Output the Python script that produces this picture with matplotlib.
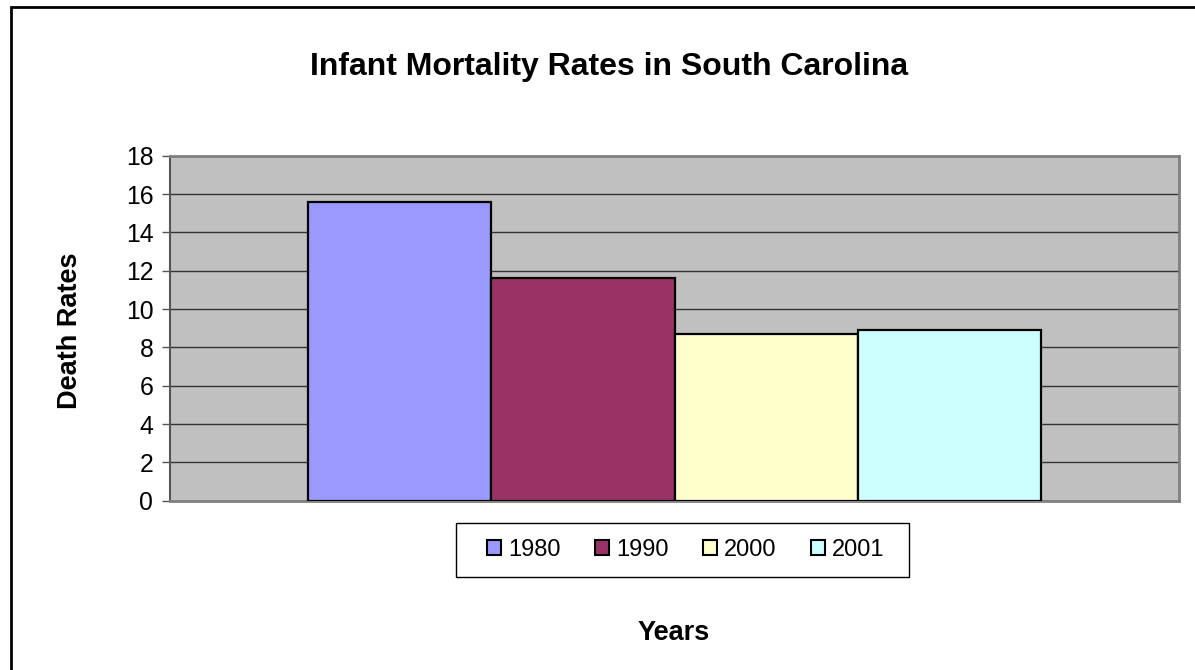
import matplotlib
matplotlib.use("Agg")
import matplotlib.pyplot as plt
from matplotlib.patches import Rectangle

plt.rcParams['font.family'] = ['Liberation Sans', 'DejaVu Sans']

title = "Infant Mortality Rates in South Carolina"
x_label = "Years"
y_label = "Death Rates"
years = ["1980", "1990", "2000", "2001"]
rates = [15.6, 11.6, 8.7, 8.9]
colors = ["#9999FF", "#993366", "#FFFFCC", "#CCFFFF"]
y_ticks = [0, 2, 4, 6, 8, 10, 12, 14, 16, 18]

W, H = 1195, 670
fig = plt.figure(figsize=(W / 100, H / 100), dpi=100)
fig.patch.set_facecolor("white")

# outer chart border (left/top visible)
fig.patches.append(Rectangle((11 / W, -0.1), 1.2, (H - 7) / H + 0.1,
                             transform=fig.transFigure, fill=False,
                             edgecolor="black", linewidth=2.0, zorder=0))

ax = fig.add_axes([170 / W, (H - 500.7) / H, 1009 / W, 345 / H])
ax.set_facecolor("#C0C0C0")

n = len(years)
offsets = [i - (n - 1) / 2 for i in range(n)]
for off, v, c, lab in zip(offsets, rates, colors, years):
    ax.bar(off, v, width=1.0, color=c, edgecolor="black", linewidth=1.6,
           label=lab, zorder=3)

ax.set_xlim(-(n / 2) - 0.75, (n / 2) + 0.75)
ax.set_ylim(0, 18)
ax.set_yticks(y_ticks)
ax.set_yticklabels([str(t) for t in y_ticks], fontsize=17.8)
ax.set_xticks([])
ax.yaxis.grid(True, color="#333333", linewidth=1.0, zorder=1)
ax.set_axisbelow(True)
ax.tick_params(axis="y", direction="out", length=6, width=1, color="#555555", pad=6)

for side in ["top", "right", "bottom"]:
    ax.spines[side].set_color("#808080")
    ax.spines[side].set_linewidth(2.0)
ax.spines["left"].set_color("#555555")
ax.spines["left"].set_linewidth(1.5)

fig.text(609 / W, 1 - 67 / H, title, fontsize=23, fontweight="bold",
         ha="center", va="center")
fig.text(70 / W, 1 - 331 / H, y_label, fontsize=19.5, fontweight="bold",
         ha="center", va="center", rotation=90)
fig.text(674 / W, 1 - 633 / H, x_label, fontsize=19.5, fontweight="bold",
         ha="center", va="center")

# legend frame (drawn separately to match the wide horizontal padding)
fig.patches.append(Rectangle((456 / W, 1 - 577 / H), (909 - 456) / W, 54 / H,
                             transform=fig.transFigure, facecolor="white",
                             edgecolor="black", linewidth=1.0, zorder=5))
handles, labels = ax.get_legend_handles_labels()
leg = fig.legend(handles, labels, loc="center",
                 bbox_to_anchor=(686 / W, 1 - 550 / H),
                 bbox_transform=fig.transFigure, ncol=4, fontsize=17,
                 frameon=False, handlelength=0.6,
                 handleheight=0.6, handletextpad=0.3, columnspacing=1.45,
                 borderpad=0.0, borderaxespad=0)
leg.set_zorder(6)
for h in leg.legend_handles:
    h.set_linewidth(1.5)

fig.savefig("out.png", dpi=100)
